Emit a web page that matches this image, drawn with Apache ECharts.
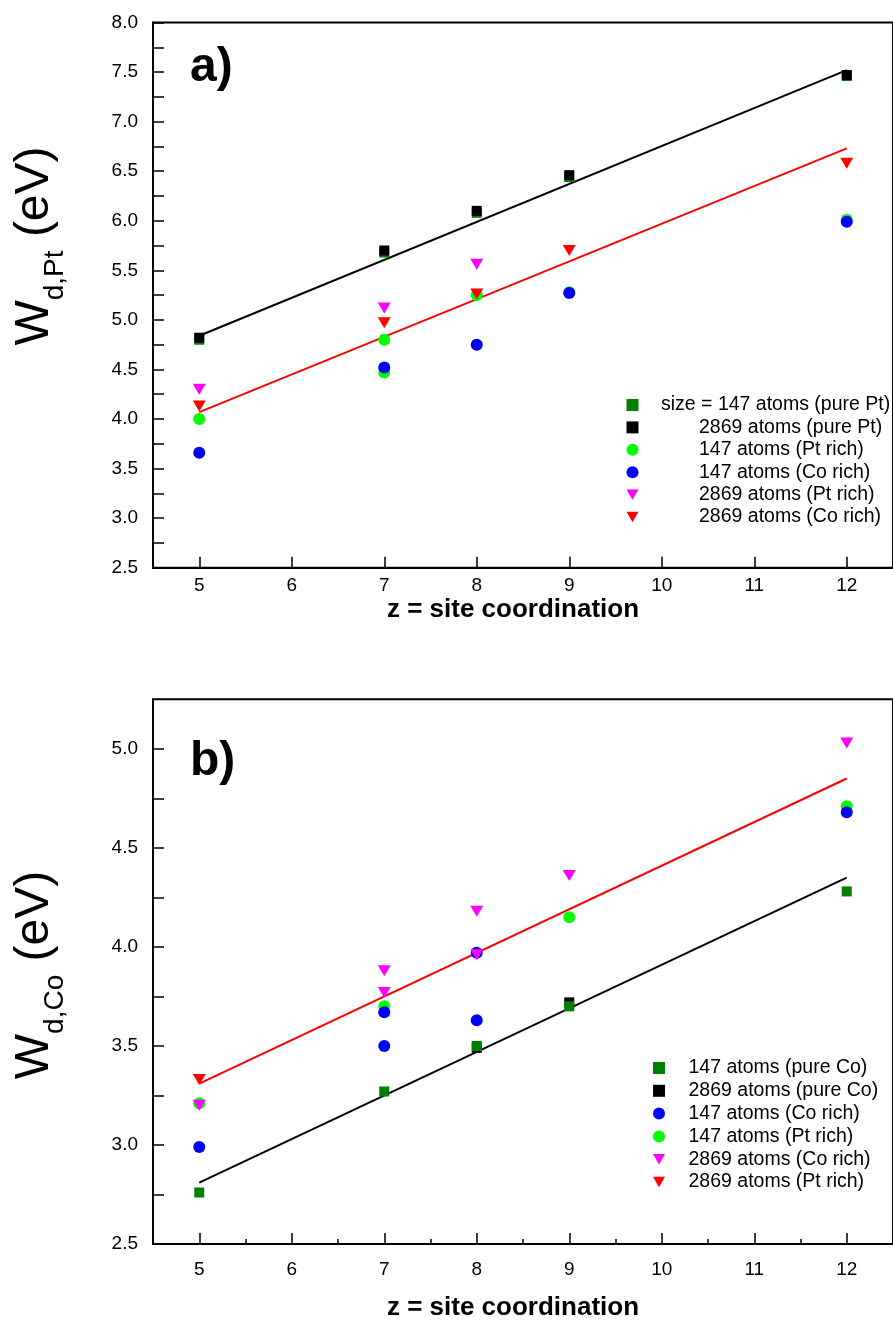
<!DOCTYPE html>
<html>
<head>
<meta charset="utf-8">
<script src="https://cdn.jsdelivr.net/npm/echarts@6/dist/echarts.min.js"></script>
<style>
  html, body { margin: 0; padding: 0; background: #fff; }
  #chart { width: 893px; height: 1324px; }
</style>
</head>
<body>
<div id="chart"></div>
<script>
// ---------- tick labels ----------
const xTickValues = [5, 6, 7, 8, 9, 10, 11, 12];
const xMinorTickValues = [5.5, 6.5, 7.5, 8.5, 9.5, 10.5, 11.5];
const yLabelsA = [2.5, 3.0, 3.5, 4.0, 4.5, 5.0, 5.5, 6.0, 6.5, 7.0, 7.5, 8.0];
const yTicksA = [2.5, 2.75, 3.0, 3.25, 3.5, 3.75, 4.0, 4.25, 4.5, 4.75, 5.0, 5.25, 5.5, 5.75, 6.0, 6.25, 6.5, 6.75, 7.0, 7.25, 7.5, 7.75, 8.0];
const yLabelsB = [2.5, 3.0, 3.5, 4.0, 4.5, 5.0];
const yTicksB = [2.5, 2.75, 3.0, 3.25, 3.5, 3.75, 4.0, 4.25, 4.5, 4.75, 5.0];

// ---------- panel a) W_d,Pt ----------
const aX_pure147 = [5, 7, 8, 9, 12];
const aY_pure147 = [4.80, 5.68, 6.08, 6.44, 7.46];
const aX_pure2869 = [5, 7, 8, 9, 12];
const aY_pure2869 = [4.82, 5.70, 6.10, 6.46, 7.47];
const aX_ptRich147 = [5, 7, 7, 8, 9, 12];
const aY_ptRich147 = [4.00, 4.80, 4.47, 5.25, 5.28, 6.01];
const aX_coRich147 = [5, 7, 8, 9, 12];
const aY_coRich147 = [3.66, 4.52, 4.75, 5.27, 5.99];
const aX_ptRich2869 = [5, 7, 8];
const aY_ptRich2869 = [4.30, 5.12, 5.56];
const aX_coRich2869 = [5, 7, 8, 9, 12];
const aY_coRich2869 = [4.13, 4.97, 5.26, 5.70, 6.58];
const aFitX = [5, 12];
const aFitBlack = [4.84, 7.52];
const aFitRed = [4.07, 6.73];

// ---------- panel b) W_d,Co ----------
const bX_pure147 = [5, 7, 8, 9, 12];
const bY_pure147 = [2.76, 3.27, 3.50, 3.70, 4.28];
const bX_pure2869 = [8, 9];
const bY_pure2869 = [3.49, 3.72];
const bX_coRich147 = [5, 7, 7, 8, 8, 12];
const bY_coRich147 = [2.99, 3.67, 3.50, 3.97, 3.63, 4.68];
const bX_ptRich147 = [5, 7, 9, 12];
const bY_ptRich147 = [3.21, 3.70, 4.15, 4.71];
const bX_coRich2869 = [5, 7, 7, 8, 8, 9, 12];
const bY_coRich2869 = [3.20, 3.88, 3.77, 4.18, 3.96, 4.36, 5.03];
const bX_ptRich2869 = [5];
const bY_ptRich2869 = [3.33];
const bFitX = [5, 12];
const bFitBlack = [2.81, 4.35];
const bFitRed = [3.31, 4.85];

// ---------- legend texts ----------
const legendA = {
  a1: 'size = 147 atoms (pure Pt)',
  a2: '2869 atoms (pure Pt)',
  a3: '147 atoms (Pt rich)',
  a4: '147 atoms (Co rich)',
  a5: '2869 atoms (Pt rich)',
  a6: '2869 atoms (Co rich)'
};
const legendB = {
  b1: '147 atoms (pure Co)',
  b2: '2869 atoms (pure Co)',
  b3: '147 atoms (Co rich)',
  b4: '147 atoms (Pt rich)',
  b5: '2869 atoms (Co rich)',
  b6: '2869 atoms (Pt rich)'
};

const FONT = '"Liberation Sans", Arial, Helvetica, sans-serif';
const TRI = 'path://M0,0 L12,0 L6,10.4 Z';

function pairs(xs, ys) { return xs.map((x, i) => [x, ys[i]]); }

function scatter(name, xs, ys, idx, symbol, size, color) {
  return {
    name: name, type: 'scatter', xAxisIndex: idx, yAxisIndex: idx,
    symbol: symbol, symbolSize: size, data: pairs(xs, ys),
    itemStyle: { color: color, opacity: 1 }, z: 3,
    emphasis: { disabled: true }, silent: true
  };
}
function fit(xs, ys, idx, color) {
  return {
    type: 'line', xAxisIndex: idx, yAxisIndex: idx, data: pairs(xs, ys),
    showSymbol: false, symbol: 'none', lineStyle: { color: color, width: 2 }, z: 2,
    silent: true, animation: false
  };
}

function xAxisCfg(gridIndex, nameGap, labelMargin) {
  return {
    type: 'value', gridIndex: gridIndex, min: 4.5, max: 12.5, position: 'bottom',
    name: 'z = site coordination', nameLocation: 'middle', nameGap: nameGap,
    nameTextStyle: { fontFamily: FONT, fontSize: 26, fontWeight: 'bold', color: '#000', padding: [0, 20, 0, 0] },
    axisLine: { show: true, onZero: false, lineStyle: { color: '#000', width: 2 } },
    axisTick: { show: true, inside: true, length: 11, customValues: xTickValues, lineStyle: { color: '#000', width: 1.5 } },
    axisLabel: { show: true, customValues: xTickValues, margin: labelMargin, fontFamily: FONT, fontSize: 19, color: '#000' },
    splitLine: { show: false }
  };
}
function yAxisCfg(gridIndex, min, max, labels, ticks) {
  return {
    type: 'value', gridIndex: gridIndex, min: min, max: max,
    axisLine: { show: true, onZero: false, lineStyle: { color: '#000', width: 2 } },
    axisTick: { show: true, inside: true, length: 11, customValues: ticks, lineStyle: { color: '#000', width: 1.5 } },
    axisLabel: { show: true, customValues: labels, margin: 15, fontFamily: FONT, fontSize: 19, color: '#000',
      formatter: v => v.toFixed(1) },
    splitLine: { show: false }
  };
}

function legendCfg(names, map, first, left, top, lh, extraFirst, extraOthers) {
  return {
    orient: 'vertical', left: left, top: top, itemWidth: 12, itemHeight: 12, itemGap: 0,
    selectedMode: false,
    data: names,
    formatter: function (n) {
      return (n === first ? '{g| }' : '{G| }') + '{t|' + map[n] + '}';
    },
    textStyle: {
      fontFamily: FONT, fontSize: 19.5, color: '#000', lineHeight: lh,
      rich: {
        g: { width: extraFirst, fontSize: 19.5, lineHeight: lh },
        G: { width: extraOthers, fontSize: 19.5, lineHeight: lh },
        t: { fontFamily: FONT, fontSize: 19.5, color: '#000', lineHeight: lh }
      }
    }
  };
}

function yTitle(sub, x, y) {
  return {
    type: 'text', x: x, y: y, rotation: Math.PI / 2, z: 10,
    style: {
      text: '{m|W}{s|' + sub + '}{m| (eV)}', align: 'center', verticalAlign: 'middle', fill: '#000',
      rich: {
        m: { fontFamily: FONT, fontSize: 48, fill: '#000', padding: [0, 0, 11, 0] },
        s: { fontFamily: FONT, fontSize: 28, fill: '#000', verticalAlign: 'bottom' }
      }
    }
  };
}

const chart = echarts.init(document.getElementById('chart'), null, { renderer: 'canvas' });

const option = {
  animation: false,
  backgroundColor: '#fff',
  grid: [
    { left: 153, top: 22.5, width: 744, height: 545.2, show: true, borderColor: '#000', borderWidth: 2, containLabel: false },
    { left: 153, top: 699.3, width: 744, height: 544.7, show: true, borderColor: '#000', borderWidth: 2, containLabel: false }
  ],
  xAxis: [
    xAxisCfg(0, 27, 9),
    xAxisCfg(1, 51, 16),
    {
      type: 'value', gridIndex: 1, min: 4.5, max: 12.5, position: 'bottom',
      axisLine: { show: false, onZero: false },
      axisTick: { show: true, inside: true, length: 5, customValues: xMinorTickValues, lineStyle: { color: '#000', width: 1.5 } },
      axisLabel: { show: false }, splitLine: { show: false }
    }
  ],
  yAxis: [
    yAxisCfg(0, 2.5, 8.0, yLabelsA, yTicksA),
    yAxisCfg(1, 2.5, 5.25, yLabelsB, yTicksB)
  ],
  legend: [
    legendCfg(['a1', 'a2', 'a3', 'a4', 'a5', 'a6'], legendA, 'a1', 621.5, 388.8, 22.4, 17.5, 55.5),
    legendCfg(['b1', 'b2', 'b3', 'b4', 'b5', 'b6'], legendB, 'b1', 648, 1051.6, 22.8, 18.5, 18.5)
  ],
  graphic: [
    { type: 'text', x: 190, y: 68, z: 10,
      style: { text: 'a)', fontFamily: FONT, fontSize: 48, fontWeight: 'bold', fill: '#000', align: 'left', verticalAlign: 'middle' } },
    { type: 'text', x: 190, y: 762, z: 10,
      style: { text: 'b)', fontFamily: FONT, fontSize: 48, fontWeight: 'bold', fill: '#000', align: 'left', verticalAlign: 'middle' } },
    yTitle('d,Pt', 40, 246),
    yTitle('d,Co', 40, 975)
  ],
  series: [
    fit(aFitX, aFitBlack, 0, '#000000'),
    fit(aFitX, aFitRed, 0, '#ff0000'),
    scatter('a1', aX_pure147, aY_pure147, 0, 'rect', 10, '#008000'),
    scatter('a2', aX_pure2869, aY_pure2869, 0, 'rect', 10, '#000000'),
    scatter('a3', aX_ptRich147, aY_ptRich147, 0, 'circle', 12, '#00ff00'),
    scatter('a4', aX_coRich147, aY_coRich147, 0, 'circle', 12, '#0000ff'),
    scatter('a5', aX_ptRich2869, aY_ptRich2869, 0, TRI, [13, 11], '#ff00ff'),
    scatter('a6', aX_coRich2869, aY_coRich2869, 0, TRI, [13, 11], '#ff0000'),

    fit(bFitX, bFitBlack, 1, '#000000'),
    fit(bFitX, bFitRed, 1, '#ff0000'),
    scatter('b2', bX_pure2869, bY_pure2869, 1, 'rect', 10, '#000000'),
    scatter('b1', bX_pure147, bY_pure147, 1, 'rect', 10, '#008000'),
    scatter('b4', bX_ptRich147, bY_ptRich147, 1, 'circle', 12, '#00ff00'),
    scatter('b3', bX_coRich147, bY_coRich147, 1, 'circle', 12, '#0000ff'),
    scatter('b5', bX_coRich2869, bY_coRich2869, 1, TRI, [13, 11], '#ff00ff'),
    scatter('b6', bX_ptRich2869, bY_ptRich2869, 1, TRI, [13, 11], '#ff0000')
  ]
};
chart.setOption(option);
</script>
</body>
</html>
